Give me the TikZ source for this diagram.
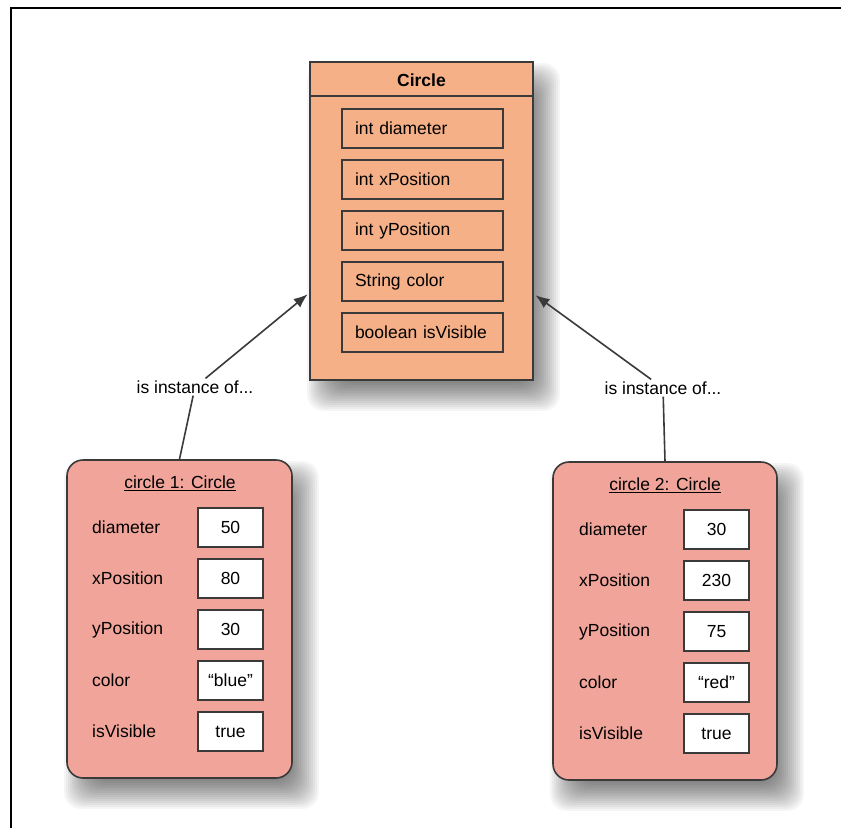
\documentclass[tikz,border=0pt]{standalone}
\usepackage{fontspec}
\setmainfont{Liberation Sans}
\usetikzlibrary{arrows.meta,backgrounds}

\definecolor{classfill}{RGB}{245,176,136}
\definecolor{objfill}{RGB}{241,164,154}
\definecolor{edgegray}{RGB}{58,58,58}

\tikzset{
  every picture/.style={font=\fontsize{17.5}{21}\selectfont},
  shadowlayer/.style={black,opacity=0.04,rounded corners=16pt}
}

\begin{document}
\begin{tikzpicture}[x=1pt,y=1pt]
      \useasboundingbox (0,0) rectangle (841,-828);
      \draw[line width=2.5pt] (11,-828) -- (11,-8) -- (841,-8);

      % the class and its objects
      \begin{scope}[every node/.style={draw=edgegray,line width=1.6pt}]
        \node[fill=classfill,minimum width=223,minimum height=318] (cls)  at (421.5,-221) {};
        \node[fill=objfill,rounded corners=16pt,minimum width=225,minimum height=318] (obj1) at (179.5,-619) {};
        \node[fill=objfill,rounded corners=16pt,minimum width=224,minimum height=318] (obj2) at (665,-621) {};
      \end{scope}

      % soft shadows
      \begin{scope}[on background layer]
        \fill[white] (0,0) rectangle (841,-828);
        \foreach \b in {cls,obj1,obj2}
          \foreach \k in {0,2,...,28}
            \fill[shadowlayer] ([shift={(\k-2,-30+\k)}]\b.south west)
              rectangle ([shift={(26-\k,-2-\k)}]\b.north east);
      \end{scope}

      \draw[edgegray,line width=1.6pt] (310,-96) -- (533,-96);
      \node[font=\fontsize{17.5}{21}\selectfont\bfseries] (ctitle) at (421.5,-80) {Circle};
      \node (otitle1) at (180,-483) {\underline{circle 1: Circle}};
      \node (otitle2) at (665,-485) {\underline{circle 2: Circle}};

      % fields of the class
      \begin{scope}[every node/.style={draw=edgegray,line width=1.6pt,text width=135pt,
          align=left,inner xsep=13pt,inner ysep=0pt,minimum height=39pt}]
        \node (f1) at (422.5,-128.5) {int diameter};
        \node (f2) at (422.5,-179.5) {int xPosition};
        \node (f3) at (422.5,-230.5) {int yPosition};
        \node (f4) at (422.5,-281.5) {String color};
        \node (f5) at (422.5,-332.5) {boolean isVisible};
      \end{scope}

      % field names
      \begin{scope}[every node/.style={anchor=west,inner sep=0pt}]
        \node (n11) at (92,-527.5) {diameter};
        \node (n12) at (92,-578.5) {xPosition};
        \node (n13) at (92,-629.5) {yPosition};
        \node (n14) at (92,-680.5) {color};
        \node (n15) at (92,-731.5) {isVisible};
        \node (n21) at (579,-529.5) {diameter};
        \node (n22) at (579,-580.5) {xPosition};
        \node (n23) at (579,-631.5) {yPosition};
        \node (n24) at (579,-682.5) {color};
        \node (n25) at (579,-733.5) {isVisible};
      \end{scope}

      % field values
      \begin{scope}[every node/.style={draw=edgegray,fill=white,line width=1.6pt,
          minimum width=65pt,minimum height=39pt,inner sep=0pt}]
        \node (v11) at (230.5,-527.5) {50};
        \node (v12) at (230.5,-578.5) {80};
        \node (v13) at (230.5,-629.5) {30};
        \node (v14) at (230.5,-680.5) {``blue''};
        \node (v15) at (230.5,-731.5) {true};
        \node (v21) at (716.5,-529.5) {30};
        \node (v22) at (716.5,-580.5) {230};
        \node (v23) at (716.5,-631.5) {75};
        \node (v24) at (716.5,-682.5) {``red''};
        \node (v25) at (716.5,-733.5) {true};
      \end{scope}

      % instance links
      \node[inner sep=2pt] (lbl1) at (195,-387) {is instance of...};
      \node[inner sep=2pt] (lbl2) at (663,-388) {is instance of...};

      \begin{scope}[every edge/.style={draw=edgegray,line width=1.6pt}]
        \path (obj1.north) edge (lbl1);
        \path (obj2.north) edge (lbl2);
        \path (lbl1) edge[-{Latex[length=14pt,width=11pt]},shorten >=2pt] ([yshift=-72pt]cls.west);
        \path (lbl2) edge[-{Latex[length=14pt,width=11pt]},shorten >=2pt] ([yshift=-73pt]cls.east);
      \end{scope}

    \end{tikzpicture}
\end{document}
